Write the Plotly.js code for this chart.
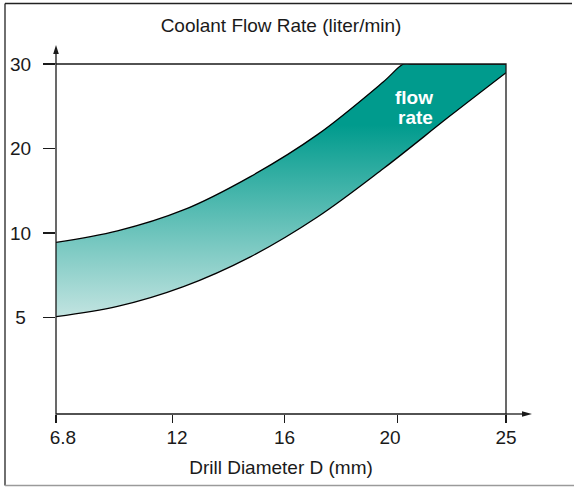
<!DOCTYPE html>
<html><head><meta charset="utf-8">
<script src="https://cdn.plot.ly/plotly-3.0.1.min.js"></script>
<style>html,body{margin:0;padding:0;background:#fff;}#chart{width:574px;height:487px;}</style>
</head><body><div id="chart"></div>
<script>
// ---- data ----
const xTickLabels = ['6.8', '12', '16', '20', '25'];
const xTickValues = [6.8, 12, 16, 20, 25];
const yTickLabels = ['5', '10', '20', '30'];
const yTickValues = [5, 10, 20, 30];

// upper limit of coolant flow (liter/min) vs drill diameter D (mm); capped at 30 on the chart
const upperD = [6.8, 9.55, 12.4, 14.78, 17.16, 19.5, 20.28, 20.6, 25];
const upperQ = [9.45, 10.26, 12.74, 16.69, 21.65, 27.9, 30, 30, 30];
// lower limit
const lowerD = [6.8, 9.55, 12.4, 14.78, 17.16, 19.5, 22.44, 25];
const lowerQ = [5.06, 5.67, 6.84, 8.6, 11.91, 17.64, 23.9, 28.97];

// ---- schematic (non-linear) axis layout ----
const xTickPos = [0, 1.033, 2.033, 3.036, 4];
const xLabelPos = [0.062, 1.076, 2.031, 2.969, 4.0];
const yTickPos = [1, 2, 3, 4];

function interp(v, vals, pos) {
  let i = 0;
  while (i < vals.length - 2 && v > vals[i + 1]) i++;
  const t = (v - vals[i]) / (vals[i + 1] - vals[i]);
  return pos[i] + t * (pos[i + 1] - pos[i]);
}
const xs = a => a.map(v => interp(v, xTickValues, xTickPos));
const ys = a => a.map(v => interp(v, yTickValues, yTickPos));

// pixel helpers for decorations (plot area 56..506 x 64..414)
const L = 56, T = 64, W = 450, H = 350;
const px = p => (p - L) / W;
const py = p => (T + H - p) / H;

const INK = '#1a1a1a';
const FONT = 'Liberation Sans, Arial, Helvetica, sans-serif';

const traces = [
  {
    x: xs(lowerD), y: ys(lowerQ), mode: 'lines',
    line: {color: '#000', width: 1.3, shape: 'spline', smoothing: 1.0},
    hoverinfo: 'skip', showlegend: false
  },
  {
    x: xs(upperD), y: ys(upperQ), mode: 'lines', fill: 'tonexty',
    fillcolor: '#4fb0a6',
    fillgradient: {type: 'vertical', start: 1.0, stop: 3.28,
      colorscale: [[0, '#c3e4e1'], [1, '#009b8d']]},
    line: {color: '#000', width: 1.3, shape: 'spline', smoothing: 1.0},
    hoverinfo: 'skip', showlegend: false
  },
  {x: [], y: [], xaxis: 'x2', showlegend: false, hoverinfo: 'skip'}
];

const shapes = [
  // plot box
  {type: 'rect', xref: 'paper', yref: 'paper', x0: 0, y0: 0, x1: 1, y1: 1, line: {color: INK, width: 1.3}, layer: 'above'},
  // y axis extension + arrow
  {type: 'line', xref: 'paper', yref: 'paper', x0: 0, y0: 1, x1: 0, y1: py(52), line: {color: INK, width: 1.3}},
  {type: 'path', xref: 'paper', yref: 'paper', path: `M${px(56)},${py(45)} L${px(53.2)},${py(54)} L${px(58.8)},${py(54)} Z`, fillcolor: INK, line: {width: 0}},
  // x axis extension + arrow
  {type: 'line', xref: 'paper', yref: 'paper', x0: 1, y0: 0, x1: px(524), y1: 0, line: {color: INK, width: 1.3}},
  {type: 'path', xref: 'paper', yref: 'paper', path: `M${px(532)},${py(414)} L${px(522)},${py(411.2)} L${px(522)},${py(416.8)} Z`, fillcolor: INK, line: {width: 0}},
  // outer frame
  {type: 'line', xref: 'paper', yref: 'paper', x0: px(5), y0: py(3.5), x1: px(572), y1: py(3.5), line: {color: '#222', width: 1.3}},
  {type: 'line', xref: 'paper', yref: 'paper', x0: px(5), y0: py(3.5), x1: px(5), y1: py(485.5), line: {color: '#222', width: 1.3}},
  {type: 'line', xref: 'paper', yref: 'paper', x0: px(5), y0: py(485.5), x1: px(574), y1: py(485.5), line: {color: '#9a9a9a', width: 1.3}}
];

const annotations = [
  {text: '<b>flow</b>', xref: 'paper', yref: 'paper', x: px(435), y: py(97), xanchor: 'right', yanchor: 'middle',
   showarrow: false, font: {family: FONT, size: 19, color: '#fff'}},
  {text: '<b>rate</b>', xref: 'paper', yref: 'paper', x: px(435), y: py(117), xanchor: 'right', yanchor: 'middle',
   showarrow: false, font: {family: FONT, size: 19, color: '#fff'}}
];

const layout = {
  width: 574, height: 487,
  margin: {l: L, r: 574 - L - W, t: T, b: 487 - T - H, pad: 0},
  paper_bgcolor: '#fff', plot_bgcolor: 'rgba(0,0,0,0)',
  font: {family: FONT, size: 19, color: INK},
  title: {text: 'Coolant Flow Rate (liter/min)', font: {family: FONT, size: 19, color: INK},
          x: 0.5, xref: 'paper', xanchor: 'center', y: 1 - 25 / 487, yref: 'container', yanchor: 'middle'},
  xaxis: {range: [0, 4], tickmode: 'array', tickvals: xTickPos, ticktext: xTickLabels, showticklabels: false,
          ticks: 'outside', ticklen: 8, tickwidth: 1.3, tickcolor: INK,
          showgrid: false, zeroline: false, showline: false, fixedrange: true},
  xaxis2: {overlaying: 'x', anchor: 'y', side: 'bottom', range: [0, 4], tickmode: 'array',
           tickvals: xLabelPos, ticktext: xTickLabels, ticks: 'outside', ticklen: 2, tickcolor: 'rgba(0,0,0,0)',
           ticklabelstandoff: 4, tickfont: {family: FONT, size: 19, color: INK},
           title: {text: 'Drill Diameter D (mm)', font: {family: FONT, size: 19, color: INK}, standoff: 13},
           showgrid: false, zeroline: false, showline: false, fixedrange: true},
  yaxis: {range: [-0.1386, 4], tickmode: 'array', tickvals: yTickPos,
          ticktext: ['5\u00a0', '10', '20', '30'],
          ticks: 'outside', ticklen: 12, tickwidth: 1.3, tickcolor: INK, ticklabelstandoff: 8,
          tickfont: {family: FONT, size: 19, color: INK},
          showgrid: false, zeroline: false, showline: false, fixedrange: true},
  shapes: shapes,
  annotations: annotations,
  showlegend: false
};

Plotly.newPlot('chart', traces, layout, {staticPlot: true, displayModeBar: false});
</script>
</body></html>
